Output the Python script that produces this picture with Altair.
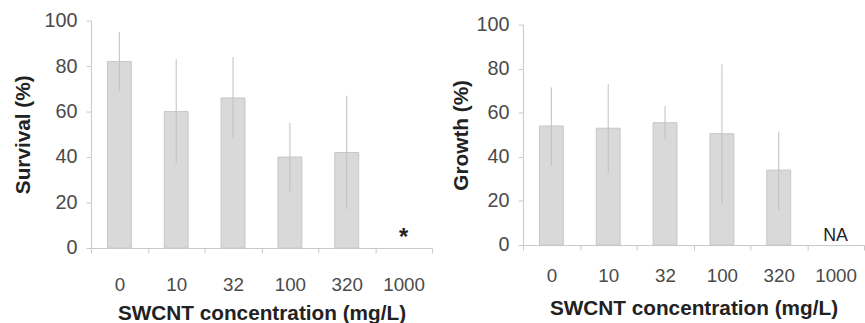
import altair as alt
import pandas as pd

conc = ["0", "10", "32", "100", "320", "1000"]

survival = [82, 60, 66, 40, 42, None]
survival_lo = [69, 37, 48, 25, 17, None]
survival_hi = [95, 83, 84, 55, 67, None]
survival_note = ["", "", "", "", "", "*"]

growth = [54, 53, 55.5, 50.5, 34, None]
growth_lo = [36, 33, 48, 19, 16, None]
growth_hi = [71.5, 73, 63, 82, 51.5, None]
growth_note = ["", "", "", "", "", "NA"]

y_ticks = [0, 20, 40, 60, 80, 100]

FONT = "Liberation Sans"
LABEL = "#4a4a4a"
TITLE = "#222222"
AXIS = "#c8c8c8"
BAR = "#d9d9d9"
BAR_STROKE = "#c6c6c6"
ERR = "#bfbfbf"


def panel(vals, lo, hi, notes, ytitle, width, height, yrange, ytitle_pad,
          x_lab_pad, x_title_pad, note_size, note_weight, note_dy):
    df = pd.DataFrame({"conc": conc, "v": vals, "lo": lo, "hi": hi, "note": notes})
    base = alt.Chart(df)
    x = alt.X(
        "conc:N", sort=conc,
        scale=alt.Scale(paddingInner=0, paddingOuter=0),
        axis=alt.Axis(
            title="SWCNT concentration (mg/L)", labelAngle=0, tickBand="extent",
            tickSize=5, tickColor=AXIS, domainColor=AXIS, labelColor=LABEL,
            labelFontSize=19, labelFont=FONT, labelPadding=x_lab_pad,
            titleFont=FONT, titleFontSize=21, titleFontWeight="bold", titleColor=TITLE,
            titlePadding=x_title_pad,
        ),
    )
    if yrange is not None:
        yscale = alt.Scale(domain=[0, 100], nice=False, range=yrange)
    else:
        yscale = alt.Scale(domain=[0, 100], nice=False)
    y = alt.Y(
        "v:Q", scale=yscale,
        axis=alt.Axis(
            title=ytitle, values=y_ticks, grid=False, tickSize=5, tickColor=AXIS,
            domainColor=AXIS, labelColor=LABEL, labelFontSize=20, labelFont=FONT,
            labelPadding=9, titleFont=FONT, titleFontSize=21, titleFontWeight="bold",
            titleColor=TITLE, titlePadding=ytitle_pad,
        ),
    )
    bars = base.mark_bar(
        fill=BAR, stroke=BAR_STROKE, strokeWidth=1, width=alt.RelativeBandSize(0.42)
    ).encode(x=x, y=y)
    errs = base.mark_rule(color=ERR, strokeWidth=1).encode(
        x=alt.X("conc:N", sort=conc), y=alt.Y("lo:Q"), y2="hi:Q"
    )
    txt = base.mark_text(
        font=FONT, fontSize=note_size, fontWeight=note_weight, color="#222222",
        baseline="alphabetic", dy=note_dy,
    ).encode(x=alt.X("conc:N", sort=conc), y=alt.datum(0), text="note:N")
    return alt.layer(bars, errs, txt).properties(width=width, height=height)


left = panel(survival, survival_lo, survival_hi, survival_note, "Survival (%)",
             345, 230, None, 11, 23, 8, 24, "bold", -3)
right = panel(growth, growth_lo, growth_hi, growth_note, "Growth (%)",
              345, 227, [227, 4], 5, 17, 12, 18, "normal", -4)

chart = alt.hconcat(left, right, spacing=92, bounds="flush").configure_view(
    stroke=None
).properties(
    padding={"left": 12, "top": 9, "right": 0, "bottom": 0}
)

chart.save("out.html", embed_options={"renderer": "svg", "actions": False})
